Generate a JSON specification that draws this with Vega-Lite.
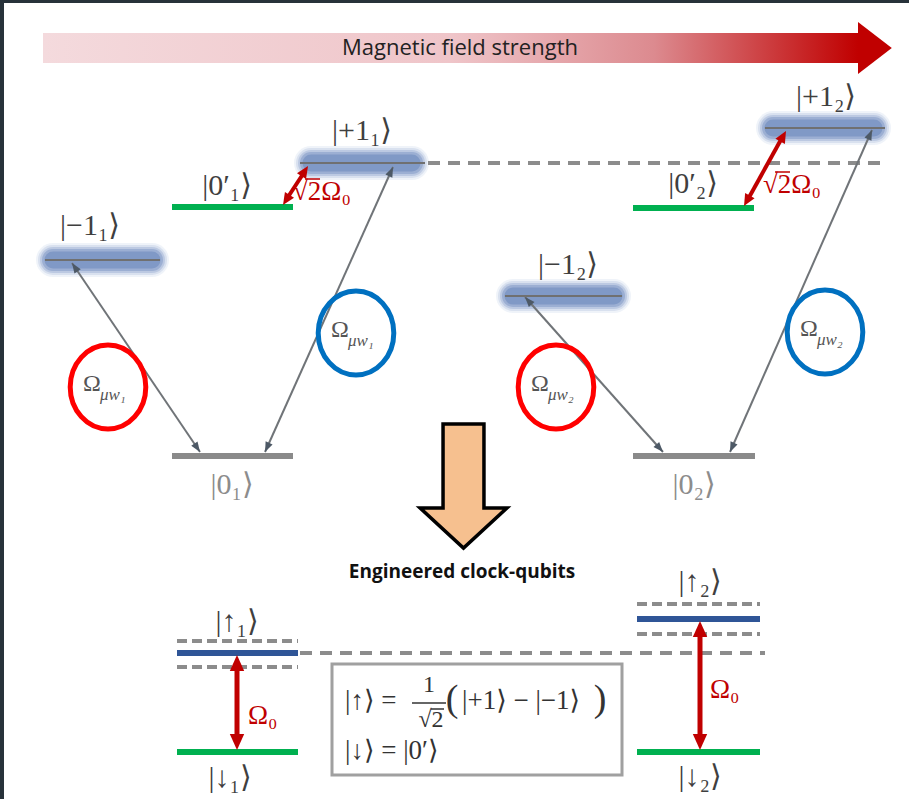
{
  "$schema": "https://vega.github.io/schema/vega-lite/v6.json",
  "width": 909,
  "height": 799,
  "autosize": {"type": "fit", "contains": "padding"},
  "padding": 0,
  "background": "#27323a",
  "config": {"view": {"stroke": null}},
  "resolve": {"scale": {"color": "independent"}},
  "datasets": {
    "bg": [{"x": 4, "x2": 909, "y": 3, "y2": 799}],
    "bar": [{"x": 43, "x2": 858, "y": 33, "y2": 63}],
    "barhead": [{"x": 858, "y": 48}],
    "title": [{"x": 460, "y": 48, "t": "Magnetic field strength"}],
    "glow": [
      {"x": 53, "x2": 152, "y": 260},
      {"x": 311, "x2": 412, "y": 163},
      {"x": 513, "x2": 614, "y": 296},
      {"x": 773, "x2": 874, "y": 128}
    ],
    "glowline": [
      {"x": 45, "x2": 160, "y": 260},
      {"x": 300, "x2": 425, "y": 163},
      {"x": 505, "x2": 622, "y": 296},
      {"x": 765, "x2": 885, "y": 128}
    ],
    "longdash": [
      {"x": 428, "x2": 880, "y": 163},
      {"x": 300, "x2": 765, "y": 653}
    ],
    "shortdash": [
      {"x": 177, "x2": 298, "y": 641},
      {"x": 177, "x2": 298, "y": 667},
      {"x": 637, "x2": 760, "y": 604},
      {"x": 637, "x2": 760, "y": 634}
    ],
    "levels": [
      {"x": 172, "x2": 293, "y": 207, "k": "green"},
      {"x": 633, "x2": 754, "y": 208, "k": "green"},
      {"x": 177, "x2": 298, "y": 752, "k": "green"},
      {"x": 637, "x2": 760, "y": 752, "k": "green"},
      {"x": 172, "x2": 293, "y": 456, "k": "gray"},
      {"x": 633, "x2": 755, "y": 456, "k": "gray"},
      {"x": 177, "x2": 298, "y": 653, "k": "blue"},
      {"x": 637, "x2": 760, "y": 619, "k": "blue"}
    ],
    "grayarrows": [
      {"x": 200, "y": 452, "x2": 72, "y2": 263},
      {"x": 265, "y": 452, "x2": 393, "y2": 167},
      {"x": 663, "y": 452, "x2": 525, "y2": 297},
      {"x": 730, "y": 452, "x2": 872, "y2": 130}
    ],
    "grayheads": [
      {"x": 72, "y": 263, "a": -34.1},
      {"x": 200, "y": 452, "a": 145.9},
      {"x": 393, "y": 167, "a": 24.2},
      {"x": 265, "y": 452, "a": -155.8},
      {"x": 525, "y": 297, "a": -41.7},
      {"x": 663, "y": 452, "a": 138.3},
      {"x": 872, "y": 130, "a": 23.8},
      {"x": 730, "y": 452, "a": -156.2}
    ],
    "redtop": [
      {"x": 286, "y": 200, "x2": 305, "y2": 171},
      {"x": 747, "y": 201, "x2": 783, "y2": 136}
    ],
    "redtopheads": [
      {"x": 308, "y": 166, "a": 32.7},
      {"x": 283, "y": 205, "a": -147.3},
      {"x": 786, "y": 131, "a": 29.2},
      {"x": 744, "y": 206, "a": -150.8}
    ],
    "redbot": [
      {"x": 237, "y": 662, "x2": 237, "y2": 743},
      {"x": 700, "y": 628, "x2": 700, "y2": 743}
    ],
    "redbotheads": [
      {"x": 237, "y": 655, "a": 0},
      {"x": 237, "y": 750, "a": 180},
      {"x": 700, "y": 621, "a": 0},
      {"x": 700, "y": 750, "a": 180}
    ],
    "circles": [
      {"x": 108, "y": 387, "c": "red"},
      {"x": 356, "y": 333, "c": "blue"},
      {"x": 556, "y": 387, "c": "red"},
      {"x": 825, "y": 332, "c": "blue"}
    ],
    "omega": [
      {"x": 92, "y": 384, "t": "Ω"},
      {"x": 340, "y": 330, "t": "Ω"},
      {"x": 540, "y": 384, "t": "Ω"},
      {"x": 809, "y": 329, "t": "Ω"}
    ],
    "omegasub": [
      {"x": 100, "y": 395, "t": "μw₁"},
      {"x": 348, "y": 341, "t": "μw₁"},
      {"x": 548, "y": 395, "t": "μw₂"},
      {"x": 817, "y": 340, "t": "μw₂"}
    ],
    "kets": [
      {"x": 90, "y": 226, "t": "|−1₁⟩", "k": "dark"},
      {"x": 227, "y": 186, "t": "|0′₁⟩", "k": "dark"},
      {"x": 362, "y": 131, "t": "|+1₁⟩", "k": "dark"},
      {"x": 568, "y": 265, "t": "|−1₂⟩", "k": "dark"},
      {"x": 693, "y": 184, "t": "|0′₂⟩", "k": "dark"},
      {"x": 826, "y": 97, "t": "|+1₂⟩", "k": "dark"},
      {"x": 232, "y": 485, "t": "|0₁⟩", "k": "light"},
      {"x": 694, "y": 485, "t": "|0₂⟩", "k": "light"},
      {"x": 237, "y": 622, "t": "|↑₁⟩", "k": "dark"},
      {"x": 230, "y": 778, "t": "|↓₁⟩", "k": "dark"},
      {"x": 700, "y": 582, "t": "|↑₂⟩", "k": "dark"},
      {"x": 700, "y": 777, "t": "|↓₂⟩", "k": "dark"}
    ],
    "redlabels": [
      {"x": 293, "y": 192, "t": "√2Ω₀"},
      {"x": 763, "y": 185, "t": "√2Ω₀"},
      {"x": 248, "y": 716, "t": "Ω₀"},
      {"x": 710, "y": 690, "t": "Ω₀"}
    ],
    "redover": [
      {"x": 305, "x2": 320, "y": 179},
      {"x": 775, "x2": 790, "y": 172}
    ],
    "bigarrow": [{"x": 463.5, "y": 486}],
    "subtitle": [{"x": 462, "y": 572, "t": "Engineered clock-qubits"}],
    "box": [{"x": 332, "x2": 622, "y": 664, "y2": 775}],
    "eqleft": [
      {"x": 345, "y": 701, "t": "|↑⟩ ="},
      {"x": 345, "y": 751, "t": "|↓⟩ = |0′⟩"},
      {"x": 462, "y": 701, "t": "|+1⟩ − |−1⟩"}
    ],
    "parens": [
      {"x": 452, "y": 700, "t": "("},
      {"x": 600, "y": 700, "t": ")"}
    ],
    "eqcenter": [
      {"x": 429, "y": 685, "t": "1"},
      {"x": 431, "y": 720, "t": "√2"}
    ],
    "fracbar": [
      {"x": 412, "x2": 446, "y": 703, "w": "bar"},
      {"x": 431, "x2": 444, "y": 709, "w": "over"}
    ]
  },
  "encoding": {
    "x": {"field": "x", "type": "quantitative", "scale": {"domain": [0, 909], "nice": false, "zero": false}, "axis": null},
    "y": {"field": "y", "type": "quantitative", "scale": {"domain": [0, 799], "nice": false, "zero": false, "reverse": true}, "axis": null}
  },
  "layer": [
    {"data": {"name": "bg"}, "mark": {"type": "rect", "color": "#ffffff"},
     "encoding": {"x2": {"field": "x2"}, "y2": {"field": "y2"}}},
    {"data": {"name": "bar"}, "mark": {"type": "rect", "color": {"gradient": "linear", "x1": 0, "x2": 1, "y1": 0, "y2": 0,
      "stops": [{"offset": 0, "color": "#f4dadd"}, {"offset": 0.5, "color": "#efc5c9"}, {"offset": 0.75, "color": "#dc8a8f"}, {"offset": 1, "color": "#c00000"}]}},
     "encoding": {"x2": {"field": "x2"}, "y2": {"field": "y2"}}},
    {"data": {"name": "barhead"}, "mark": {"type": "point", "shape": "M0,-1L1.3,0L0,1Z", "size": 2704, "filled": true, "opacity": 1, "color": "#c00000"}},
    {"data": {"name": "title"}, "mark": {"type": "text", "font": "Open Sans", "fontSize": 22, "color": "#222222", "align": "center", "baseline": "middle"},
     "encoding": {"text": {"field": "t"}}},
    {"data": {"name": "glow"}, "mark": {"type": "rule", "strokeWidth": 34, "strokeCap": "round", "color": "#a8bbdb", "opacity": 0.18},
     "encoding": {"x2": {"field": "x2"}}},
    {"data": {"name": "glow"}, "mark": {"type": "rule", "strokeWidth": 30, "strokeCap": "round", "color": "#98add4", "opacity": 0.25},
     "encoding": {"x2": {"field": "x2"}}},
    {"data": {"name": "glow"}, "mark": {"type": "rule", "strokeWidth": 26, "strokeCap": "round", "color": "#879fcb", "opacity": 0.35},
     "encoding": {"x2": {"field": "x2"}}},
    {"data": {"name": "glow"}, "mark": {"type": "rule", "strokeWidth": 22, "strokeCap": "round", "color": "#7c96c4", "opacity": 0.5},
     "encoding": {"x2": {"field": "x2"}}},
    {"data": {"name": "glow"}, "mark": {"type": "rule", "strokeWidth": 17, "strokeCap": "round", "color": "#7590c0", "opacity": 0.7},
     "encoding": {"x2": {"field": "x2"}}},
    {"data": {"name": "glowline"}, "mark": {"type": "rule", "strokeWidth": 2, "color": "#707070"},
     "encoding": {"x2": {"field": "x2"}}},
    {"data": {"name": "longdash"}, "mark": {"type": "rule", "strokeWidth": 4, "color": "#8c8c8c", "strokeDash": [12, 8]},
     "encoding": {"x2": {"field": "x2"}}},
    {"data": {"name": "shortdash"}, "mark": {"type": "rule", "strokeWidth": 4, "color": "#8c8c8c", "strokeDash": [10, 5]},
     "encoding": {"x2": {"field": "x2"}}},
    {"data": {"name": "levels"}, "mark": {"type": "rule", "strokeWidth": 6},
     "encoding": {"x2": {"field": "x2"}, "color": {"field": "k", "type": "nominal", "legend": null,
       "scale": {"domain": ["green", "gray", "blue"], "range": ["#00b050", "#8a8a8a", "#2f5597"]}}}},
    {"data": {"name": "grayarrows"}, "mark": {"type": "rule", "strokeWidth": 2, "color": "#707478"},
     "encoding": {"x2": {"field": "x2"}, "y2": {"field": "y2"}}},
    {"data": {"name": "grayheads"}, "mark": {"type": "point", "shape": "M0,0L0.38,1L-0.38,1Z", "size": 400, "filled": true, "opacity": 1, "color": "#4d5966"},
     "encoding": {"angle": {"field": "a", "type": "quantitative", "scale": null}}},
    {"data": {"name": "redtop"}, "mark": {"type": "rule", "strokeWidth": 4, "color": "#c00000"},
     "encoding": {"x2": {"field": "x2"}, "y2": {"field": "y2"}}},
    {"data": {"name": "redtopheads"}, "mark": {"type": "point", "shape": "M0,0L0.45,1L-0.45,1Z", "size": 576, "filled": true, "opacity": 1, "color": "#c00000"},
     "encoding": {"angle": {"field": "a", "type": "quantitative", "scale": null}}},
    {"data": {"name": "redbot"}, "mark": {"type": "rule", "strokeWidth": 5, "color": "#c00000"},
     "encoding": {"x2": {"field": "x2"}, "y2": {"field": "y2"}}},
    {"data": {"name": "redbotheads"}, "mark": {"type": "point", "shape": "M0,0L0.45,1L-0.45,1Z", "size": 1024, "filled": true, "opacity": 1, "color": "#c00000"},
     "encoding": {"angle": {"field": "a", "type": "quantitative", "scale": null}}},
    {"data": {"name": "circles"}, "mark": {"type": "point", "shape": "M-0.9,0A0.9,1 0 1,1 0.9,0A0.9,1 0 1,1 -0.9,0Z", "size": 7056, "filled": false, "opacity": 1, "strokeWidth": 5},
     "encoding": {"color": {"field": "c", "type": "nominal", "legend": null, "scale": {"domain": ["red", "blue"], "range": ["#ff0000", "#0070c0"]}}}},
    {"data": {"name": "omega"}, "mark": {"type": "text", "font": "Liberation Serif, DejaVu Serif", "fontSize": 24, "color": "#555555", "align": "center", "baseline": "middle"},
     "encoding": {"text": {"field": "t"}}},
    {"data": {"name": "omegasub"}, "mark": {"type": "text", "font": "Liberation Serif, DejaVu Serif", "fontSize": 17, "fontStyle": "italic", "color": "#555555", "align": "left", "baseline": "middle"},
     "encoding": {"text": {"field": "t"}}},
    {"data": {"name": "kets"}, "mark": {"type": "text", "font": "Liberation Serif, DejaVu Serif", "fontSize": 30, "align": "center", "baseline": "middle"},
     "encoding": {"text": {"field": "t"}, "color": {"field": "k", "type": "nominal", "legend": null, "scale": {"domain": ["dark", "light"], "range": ["#3f3f3f", "#8c8c8c"]}}}},
    {"data": {"name": "redlabels"}, "mark": {"type": "text", "font": "Liberation Serif, DejaVu Serif", "fontSize": 27, "color": "#c00000", "align": "left", "baseline": "middle"},
     "encoding": {"text": {"field": "t"}}},
    {"data": {"name": "redover"}, "mark": {"type": "rule", "strokeWidth": 1.5, "color": "#c00000"},
     "encoding": {"x2": {"field": "x2"}}},
    {"data": {"name": "bigarrow"}, "mark": {"type": "point", "shape": "M-0.33,-1L0.33,-1L0.33,0.355L0.7,0.355L0,1L-0.7,0.355L-0.33,0.355Z", "size": 15376, "filled": true, "opacity": 1, "fill": "#f6c08f", "stroke": "#000000", "strokeWidth": 3.5, "strokeJoin": "miter"}},
    {"data": {"name": "subtitle"}, "mark": {"type": "text", "font": "Open Sans", "fontSize": 19, "fontWeight": "bold", "color": "#111111", "align": "center", "baseline": "middle"},
     "encoding": {"text": {"field": "t"}}},
    {"data": {"name": "box"}, "mark": {"type": "rect", "filled": false, "stroke": "#a0a0a0", "strokeWidth": 3},
     "encoding": {"x2": {"field": "x2"}, "y2": {"field": "y2"}}},
    {"data": {"name": "eqleft"}, "mark": {"type": "text", "font": "Liberation Serif, DejaVu Serif", "fontSize": 27, "color": "#333333", "align": "left", "baseline": "middle"},
     "encoding": {"text": {"field": "t"}}},
    {"data": {"name": "parens"}, "mark": {"type": "text", "font": "Liberation Serif, DejaVu Serif", "fontSize": 38, "color": "#333333", "align": "center", "baseline": "middle"},
     "encoding": {"text": {"field": "t"}}},
    {"data": {"name": "eqcenter"}, "mark": {"type": "text", "font": "Liberation Serif, DejaVu Serif", "fontSize": 24, "color": "#333333", "align": "center", "baseline": "middle"},
     "encoding": {"text": {"field": "t"}}},
    {"data": {"name": "fracbar"}, "mark": {"type": "rule", "strokeWidth": 1.5, "color": "#333333"},
     "encoding": {"x2": {"field": "x2"}}}
  ]
}
